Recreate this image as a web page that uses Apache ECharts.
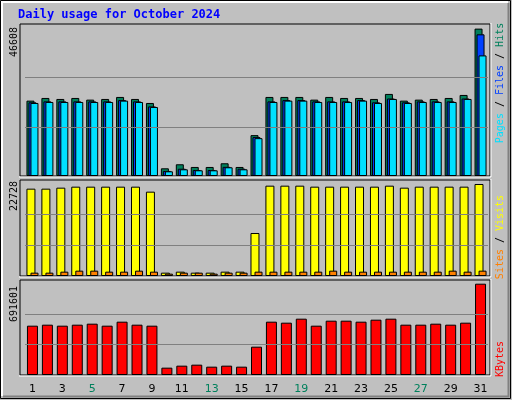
<!DOCTYPE html>
<html>
<head>
<meta charset="utf-8">
<script src="https://cdn.jsdelivr.net/npm/echarts@6/dist/echarts.min.js"></script>
<style>html,body{margin:0;padding:0;background:#c0c0c0;}#main{width:512px;height:400px;}</style>
</head>
<body>
<div id="main"></div>
<script>
const days = ['1','2','3','4','5','6','7','8','9','10','11','12','13','14','15','16','17','18','19','20','21','22','23','24','25','26','27','28','29','30','31'];
const weekend = ['5','6','12','13','19','20','26','27'];
const hits = [23834,24682,24364,24682,24152,24364,25000,24364,23093,2436,3708,2860,2860,4025,2860,12923,25000,25000,25000,24152,25000,24682,24682,24364,25953,23834,24152,24364,24682,25635,46608];
const files = [23300,23600,23600,23600,23600,23600,24000,23600,22000,1600,2300,1900,1900,2900,2300,12300,23600,24000,24000,23600,23600,23600,24000,23300,24500,23300,23600,23600,23600,24500,44808];
const pages = [23093,23411,23411,23411,23411,23411,23834,23411,21822,1483,2119,1801,1801,2754,2119,11970,23411,23834,23834,23411,23411,23411,23834,23093,24364,23093,23411,23411,23411,24364,38135];
const visits = [21575,21575,21822,22070,22070,22070,22070,22070,20834,823,1071,823,823,1071,1071,10623,22317,22317,22317,22070,22070,22070,22070,22070,22317,21822,22070,22070,22070,22070,22728];
const sites = [823,823,1071,1318,1318,1071,1071,1318,1071,576,823,823,576,823,823,1071,1071,1071,1071,1071,1318,1071,1071,1071,1071,1071,1071,1071,1318,1071,1318];
const kbytes = [373567,381139,373567,381139,388711,373567,403856,381139,373567,55530,70675,78247,63103,70675,63103,214549,403856,396284,426573,373567,411428,411428,403856,419001,426573,381139,381139,388711,381139,396284,691601];
const maxHits = 46608, maxVisits = 22728, maxKB = 691601;

const chart = echarts.init(document.getElementById('main'));
const border = { borderColor: '#000', borderWidth: 1 };

function grid3(v) {
  return {
    type: 'line', xAxisIndex: v.i, yAxisIndex: v.i, data: [], silent: true,
    markLine: {
      silent: true, symbol: 'none', label: { show: false },
      lineStyle: { color: '#808080', type: 'solid', width: 1 },
      data: [{ yAxis: v.max / 3 }, { yAxis: v.max * 2 / 3 }]
    }
  };
}
function panel(x, y, w, h) {
  return [
    { type: 'rect', shape: { x: x, y: y, width: w, height: h }, style: { fill: 'none', stroke: '#000', lineWidth: 1 }, z: 100 },
    { type: 'polyline', shape: { points: [[x - 1, y + h + 1], [x + w + 1, y + h + 1], [x + w + 1, y - 1]] }, style: { fill: 'none', stroke: '#fff', lineWidth: 1 }, z: 100 }
  ];
}
const mono = 'DejaVu Sans Mono, monospace';
function sideText(x, y, rich, text) {
  return { type: 'text', x: x, y: y, rotation: Math.PI / 2, style: { text: text, rich: rich, font: '10px ' + mono, align: 'center', verticalAlign: 'middle' }, z: 100 };
}

const option = {
  animation: false,
  backgroundColor: '#c0c0c0',
  grid: [
    { left: 25, right: 24, top: 24, height: 152 },
    { left: 25, right: 24, top: 180, height: 96 },
    { left: 25, right: 24, top: 280, height: 95 }
  ],
  xAxis: [0, 1, 2].map(i => ({
    type: 'category', data: days, gridIndex: i,
    axisLine: { show: false }, axisTick: { show: false },
    axisLabel: i === 2 ? {
      margin: 9, fontSize: 11, fontFamily: 'DejaVu Sans, sans-serif',
      color: v => weekend.includes(v) ? '#00805c' : '#000'
    } : { show: false }
  })),
  yAxis: [
    { gridIndex: 0, min: 0, max: 48070 },
    { gridIndex: 1, min: 0, max: 23716 },
    { gridIndex: 2, min: 0, max: 719628 }
  ].map(a => Object.assign(a, { type: 'value', axisLine: { show: false }, axisTick: { show: false }, axisLabel: { show: false }, splitLine: { show: false } })),
  series: [
    grid3({ i: 0, max: maxHits }), grid3({ i: 1, max: maxVisits }), grid3({ i: 2, max: maxKB }),
    { type: 'bar', name: 'Hits', data: hits, barWidth: 8, barGap: '-75%', itemStyle: Object.assign({ color: '#00805c' }, border), xAxisIndex: 0, yAxisIndex: 0 },
    { type: 'bar', name: 'Files', data: files, barWidth: 8, barGap: '-75%', itemStyle: Object.assign({ color: '#0040ff' }, border), xAxisIndex: 0, yAxisIndex: 0 },
    { type: 'bar', name: 'Pages', data: pages, barWidth: 8, barGap: '-75%', itemStyle: Object.assign({ color: '#00e0ff' }, border), xAxisIndex: 0, yAxisIndex: 0 },
    { type: 'bar', name: 'Visits', data: visits, barWidth: 9, barGap: '-55%', itemStyle: Object.assign({ color: '#ffff00' }, border), xAxisIndex: 1, yAxisIndex: 1 },
    { type: 'bar', name: 'Sites', data: sites, barWidth: 8, barGap: '-55%', itemStyle: Object.assign({ color: '#ff8000' }, border), xAxisIndex: 1, yAxisIndex: 1 },
    { type: 'bar', name: 'KBytes', data: kbytes, barWidth: 11, itemStyle: Object.assign({ color: '#ff0000' }, border), xAxisIndex: 2, yAxisIndex: 2 }
  ],
  graphic: [
    { type: 'rect', shape: { x: 0.5, y: 0.5, width: 510, height: 398 }, style: { fill: 'none', stroke: '#000', lineWidth: 1 }, z: 100 },
    { type: 'polyline', shape: { points: [[2, 396], [2, 2], [508, 2]] }, style: { fill: 'none', stroke: '#fff', lineWidth: 2 }, z: 100 },
    { type: 'polyline', shape: { points: [[3, 396.5], [508.5, 396.5], [508.5, 3]] }, style: { fill: 'none', stroke: '#808080', lineWidth: 2 }, z: 100 },
    ...panel(20, 24, 470, 152), ...panel(20, 180, 470, 96), ...panel(20, 280, 470, 95),
    { type: 'text', x: 18, y: 15, style: { text: 'Daily usage for October 2024', font: 'bold 12px ' + mono, fill: '#0000ff', verticalAlign: 'middle' }, z: 100 },
    sideText(14, 42, {}, '46608'),
    sideText(14, 196, {}, '22728'),
    sideText(14, 304, {}, '691601'),
    sideText(500, 83, { p: { fill: '#00e0ff' }, f: { fill: '#0040ff' }, h: { fill: '#00805c' }, s: { fill: '#000' } }, '{p|Pages}{s| / }{f|Files}{s| / }{h|Hits}'),
    sideText(500, 237, { a: { fill: '#ff8000' }, b: { fill: '#ffff00' }, s: { fill: '#000' } }, '{a|Sites}{s| / }{b|Visits}'),
    sideText(500, 359, { k: { fill: '#ff0000' } }, '{k|KBytes}')
  ]
};
chart.setOption(option);
</script>
</body>
</html>
